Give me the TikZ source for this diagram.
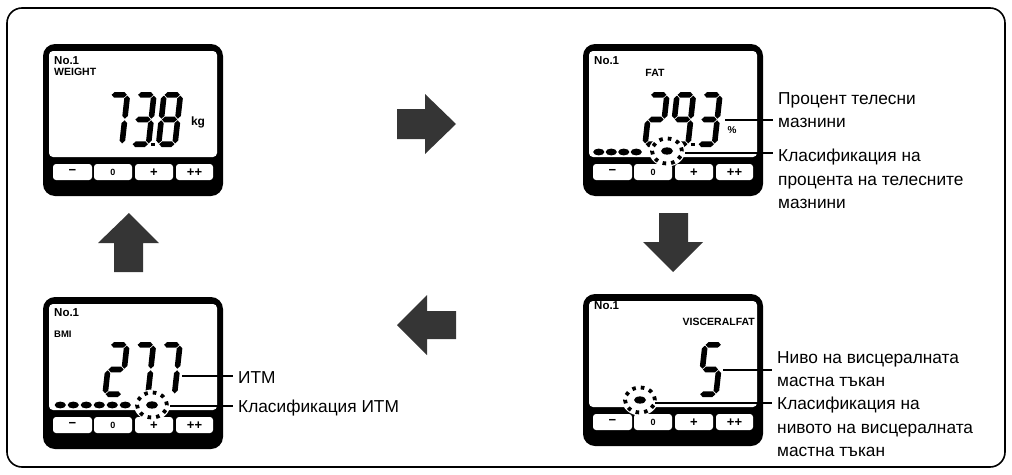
\documentclass[tikz,border=0pt]{standalone}
\usepackage{fontspec}
\setmainfont{Liberation Sans}
\definecolor{arrgray}{HTML}{353535}
% seven-segment helpers (local coords: origin bottom-left, y downwards)
\newcommand\lcdhseg[1]{\fill (3.4,#1) -- (6.1,{#1-2.8}) -- (15.9,{#1-2.8}) -- (18.6,#1) -- (15.9,{#1+2.8}) -- (6.1,{#1+2.8}) -- cycle;}
\newcommand\lcdvseg[3]{\fill (#1,#2) -- ({#1+2.8},{#2+2.8}) -- ({#1+2.8},{#3-2.8}) -- (#1,#3) -- ({#1-2.8},{#3-2.8}) -- ({#1-2.8},{#2+2.8}) -- cycle;}
\def\lcdsega{\lcdhseg{-52.2}}
\def\lcdsegg{\lcdhseg{-27.5}}
\def\lcdsegd{\lcdhseg{-2.8}}
\def\lcdsegb{\lcdvseg{19.2}{-51.4}{-28.3}}
\def\lcdsegc{\lcdvseg{19.2}{-26.7}{-3.6}}
\def\lcdsege{\lcdvseg{2.8}{-26.7}{-3.6}}
\def\lcdsegf{\lcdvseg{2.8}{-51.4}{-28.3}}
\newcommand\lcdseg[1]{\csname lcdseg#1\endcsname}
\newcommand\lcddigit[3]{\begin{scope}[shift={(#1,#2)},xslant=0.11]\foreach \s in {#3}{\lcdseg{\s}}\end{scope}}
\newcommand\lcddp[2]{\fill (#1,#2) rectangle ({#1+3.8},{#2+3.8});}
% display frame with buttons
\newcommand\lcdframe[3]{%
\begin{scope}[shift={(#1,#2)}]
\fill[rounded corners=12pt] (0,0) rectangle (180,152);
\fill[white,rounded corners=4pt] (6,7) rectangle (174,113);
\foreach \xa/\xb/\t/\k in {10/49/{−}/1,51/89/{\fontsize{9}{9}\selectfont 0}/2,92/130/+/3,133/170/++/4}{
  \fill[white,rounded corners=3pt] (\xa,120) rectangle (\xb,136);
  \node[btn] (#3btn\k) at ({(\xa+\xb)/2},128.3) {\t};
}
\end{scope}}
% classification ring
\newcommand\lcdring[2]{%
\fill[white] (#1,#2) ellipse [x radius=18pt,y radius=15.5pt];
\draw[line width=3.8pt,dash pattern=on 3.6pt off 5pt] (#1,#2) ellipse [x radius=15pt,y radius=12.5pt];
\fill (#1,#2) ellipse [x radius=6pt,y radius=3.6pt];}
\newcommand\lcdpill[2]{\fill (#1,#2) ellipse [x radius=5.6pt,y radius=3.4pt];}
\begin{document}
\begin{tikzpicture}[x=1pt,y=-1pt,
  arrowshape/.style={fill=arrgray},
  lead/.style={line width=2.3pt},
  lbl/.style={anchor=north west,inner sep=0pt,align=left,font=\fontsize{17.3}{23.5}\selectfont},
  scrtxt/.style={inner sep=0pt,font=\bfseries\fontsize{10.5}{10.5}\selectfont},
  btn/.style={inner sep=0pt,font=\bfseries\fontsize{13}{13}\selectfont},
]
\useasboundingbox (0,0) rectangle (1012,474);
\draw[line width=1.6pt,rounded corners=15pt] (7,8) rectangle (1005,467);

% ---------- displays ----------
\lcdframe{43}{44}{w}
\lcdframe{583}{44}{f}
\lcdframe{43}{297}{b}
\lcdframe{583}{294}{v}

% WEIGHT
\node[scrtxt,anchor=west,font=\bfseries\fontsize{11.5}{11.5}\selectfont] (wno) at (54,61) {No.1};
\node[scrtxt,anchor=west] (wname) at (54,72) {WEIGHT};
\lcddigit{102.5}{147}{a,b,c}
\lcddigit{129}{147}{a,b,g,c,d}
\lcddp{151.4}{142.5}
\lcddigit{155.5}{147}{a,b,c,d,e,f,g}
\node[scrtxt,font=\bfseries\fontsize{12}{12}\selectfont] (wunit) at (198,122) {kg};

% FAT
\node[scrtxt,anchor=west,font=\bfseries\fontsize{11.5}{11.5}\selectfont] (fno) at (594,61) {No.1};
\node[scrtxt] (fname) at (655,73) {FAT};
\lcddigit{642}{147}{a,b,g,e,d}
\lcddigit{668.5}{147}{a,b,c,d,f,g}
\lcddp{691}{142.5}
\lcddigit{695}{147}{a,b,g,c,d}
\node[scrtxt,font=\bfseries\fontsize{10}{10}\selectfont] (funit) at (732,130) {\%};
\foreach \px in {598.8,611.3,623.8,636.3}{\lcdpill{\px}{152}}
\lcdring{667}{151}

% BMI
\node[scrtxt,anchor=west,font=\bfseries\fontsize{11.5}{11.5}\selectfont] (bno) at (54,313) {No.1};
\node[scrtxt,anchor=west,font=\bfseries\fontsize{9.5}{9.5}\selectfont] (bname) at (54,334) {BMI};
\lcddigit{102}{397}{a,b,g,e,d}
\lcddigit{128.5}{397}{a,b,c}
\lcddigit{155}{397}{a,b,c}
\foreach \px in {60.3,73.3,86.3,99.3,112.3,125.3}{\lcdpill{\px}{405}}
\lcdring{152}{405}

% VISCERAL FAT
\node[scrtxt,anchor=west,font=\bfseries\fontsize{11.5}{11.5}\selectfont] (vno) at (594,306) {No.1};
\node[scrtxt,anchor=east] (vname) at (755,322) {VISCERALFAT};
\lcddigit{696.5}{397}{a,f,g,c,d}
\lcdring{640}{400}

% ---------- arrows ----------
\fill[arrowshape] (397,109) -- (425,109) -- (425,94) -- (456,124) -- (425,154) -- (425,139) -- (397,139) -- cycle;
\fill[arrowshape] (659,213) -- (688,213) -- (688,242) -- (703,242) -- (673,272) -- (643,242) -- (659,242) -- cycle;
\fill[arrowshape] (456,311) -- (427,311) -- (427,295) -- (397,325) -- (427,355) -- (427,339) -- (456,339) -- cycle;
\fill[arrowshape] (114,272) -- (114,243) -- (98,243) -- (129,213) -- (159,243) -- (143,243) -- (143,272) -- cycle;

% ---------- labels ----------
\node[lbl] (fatlbla) at (778,92) {Процент телесни\\мазнини};
\node[lbl] (fatlblb) at (778,149) {Класификация на\\процента на телесните\\мазнини};
\node[lbl] (bmilbla) at (238,371) {ИТМ};
\node[lbl] (bmilblb) at (238,400) {Класификация ИТМ};
\node[lbl] (vislbla) at (777,351) {Ниво на висцералната\\мастна тъкан};
\node[lbl] (vislblb) at (777,397) {Класификация на\\нивото на висцералната\\мастна тъкан};

% ---------- leaders ----------
\coordinate (fatval) at (725,120);   \coordinate (fatvalend) at (773,120);
\coordinate (fatcls) at (685,153);   \coordinate (fatclsend) at (773,153);
\coordinate (bmival) at (182,376);   \coordinate (bmivalend) at (233,376);
\coordinate (bmicls) at (170,406);   \coordinate (bmiclsend) at (233,406);
\coordinate (visval) at (723,370);   \coordinate (visvalend) at (772,370);
\coordinate (viscls) at (655,403);   \coordinate (visclsend) at (772,403);
\draw[lead] (fatval) -- (fatvalend);
\draw[lead] (fatcls) -- (fatclsend);
\draw[lead] (bmival) -- (bmivalend);
\draw[lead] (bmicls) -- (bmiclsend);
\draw[lead] (visval) -- (visvalend);
\draw[lead] (viscls) -- (visclsend);
\end{tikzpicture}
\end{document}
